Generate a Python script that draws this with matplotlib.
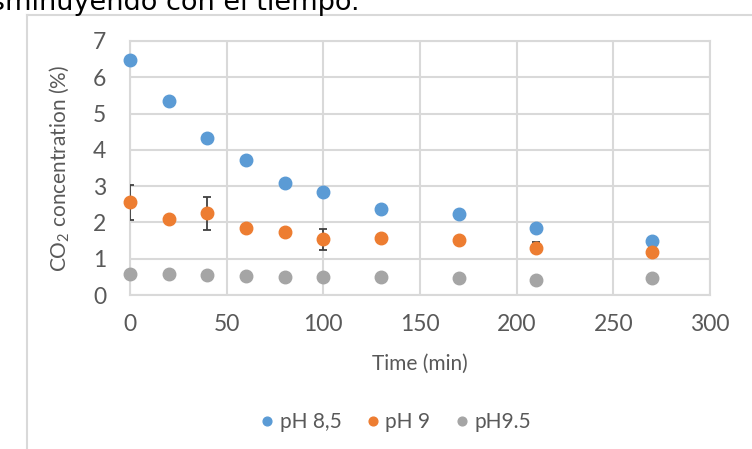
import matplotlib
matplotlib.use("Agg")
import matplotlib.pyplot as plt
from matplotlib.lines import Line2D

plt.rcParams['font.family'] = ['Lato', 'DejaVu Sans']
plt.rcParams['mathtext.fontset'] = 'custom'
plt.rcParams['mathtext.rm'] = 'Lato'

# datos
time = [0, 20, 40, 60, 80, 100, 130, 170, 210, 270]
ph85 = [6.49, 5.35, 4.33, 3.72, 3.09, 2.84, 2.38, 2.22, 1.85, 1.50]
ph9 = [2.55, 2.10, 2.25, 1.84, 1.73, 1.54, 1.57, 1.52, 1.30, 1.19]
ph9_err = [0.47, 0, 0.46, 0, 0, 0.29, 0, 0, 0.15, 0.12]
ph95 = [0.57, 0.57, 0.54, 0.52, 0.50, 0.50, 0.50, 0.47, 0.41, 0.47]
names = ['pH 8,5', 'pH 9', 'pH9.5']
colors = ['#5b9bd5', '#ed7d31', '#a5a5a5']

W, H = 752, 449
fig = plt.figure(figsize=(W / 100, H / 100), dpi=100)
ax = fig.add_axes([130 / W, (H - 295) / H, 580 / W, 254 / H])

grid_c = '#d9d9d9'
txt_c = '#595959'

# barras de error (recortadas en el eje)
ax.errorbar(time, ph9, yerr=ph9_err, fmt='none', ecolor='#404040',
            elinewidth=1.3, capsize=3, capthick=1.3, zorder=3)

for y, n, c in zip([ph85, ph9, ph95], names, colors):
    ax.plot(time, y, 'o', color=c, markersize=9, label=n, clip_on=False, zorder=4)

ax.set_xlim(0, 300)
ax.set_ylim(0, 7)
ax.set_xticks(range(0, 301, 50))
ax.set_yticks(range(0, 8))
ax.grid(True, color=grid_c, linewidth=1.5)
ax.set_axisbelow(True)
for s in ax.spines.values():
    s.set_color(grid_c)
    s.set_linewidth(1.5)
ax.tick_params(length=0, labelsize=16.5, labelcolor=txt_c)
ax.tick_params(axis='y', pad=17)
ax.tick_params(axis='x', pad=14)

ax.set_xlabel('Time (min)', fontsize=15, color=txt_c, labelpad=13)
ax.set_ylabel('CO$_\\mathrm{2}$ concentration (%)', fontsize=15, color=txt_c)
ax.yaxis.set_label_coords(-0.1, 0.5)

leg = ax.legend(loc='center', bbox_to_anchor=(396 / W, 1 - 422 / H),
                bbox_transform=fig.transFigure, ncol=3, frameon=False,
                fontsize=15, markerscale=0.7, handlelength=0.6,
                handletextpad=0.3, columnspacing=1.2)
for t in leg.get_texts():
    t.set_color(txt_c)

# marco del grafico y texto cortado del documento
fig.add_artist(Line2D([27 / W, 27 / W], [0, 1 - 15 / H], color=grid_c, lw=1.5))
fig.add_artist(Line2D([27 / W, 1], [1 - 15 / H, 1 - 15 / H], color=grid_c, lw=1.5))
fig.text(360 / W, 1 - 10 / H, 'disminuyendo con el tiempo.', fontsize=19.5,
         color='black', ha='right', va='baseline', family='DejaVu Sans')

fig.savefig('out.png', dpi=100)
